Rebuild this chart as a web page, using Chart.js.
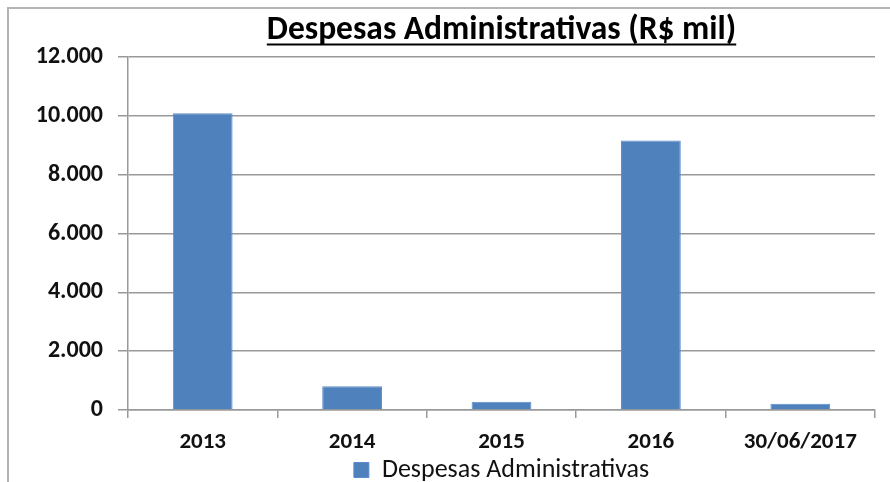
<!DOCTYPE html>
<html>
<head>
<meta charset="utf-8">
<script src="https://cdn.jsdelivr.net/npm/chart.js@4.4.0/dist/chart.umd.min.js"></script>
<style>
  html, body { margin: 0; padding: 0; background: #fff; }
  #wrap { position: relative; width: 890px; height: 482px; overflow: hidden; }
  #frame {
    position: absolute; left: 7px; top: 7px; width: 1000px; height: 600px;
    border-left: 2px solid #b4b4b4; border-top: 2px solid #b4b4b4;
  }
  #chart { position: absolute; left: 0; top: 0; }
</style>
</head>
<body>
<div id="wrap">
  <div id="frame"></div>
  <canvas id="chart" width="890" height="482"></canvas>
</div>
<script>
const FONT = "Carlito, 'Liberation Sans Narrow', 'DejaVu Sans Condensed', sans-serif";

const titleText = 'Despesas Administrativas (R$ mil)';
const seriesLabel = 'Despesas Administrativas';
const categories = ['2013', '2014', '2015', '2016', '30/06/2017'];
const values = [10090, 810, 280, 9170, 215];
const yMin = 0;
const yMax = 12000;
const yStep = 2000;

const TITLE_SIZE = 33.5;

function fmt(v) {
    return String(v).replace(/\B(?=(\d{3})+(?!\d))/g, '.');
}

// underline the title, Excel style
const underlineTitle = {
    id: 'underlineTitle',
    afterDraw(chart) {
        const tb = chart.titleBlock;
        if (!tb) return;
        const ctx = chart.ctx;
        const opts = chart.options.plugins.title;
        ctx.save();
        ctx.font = `bold ${TITLE_SIZE}px ${FONT}`;
        const w = ctx.measureText(titleText).width;
        const cx = (tb.left + tb.right) / 2;
        const mid = tb.top + opts.padding.top + TITLE_SIZE * 1.2 / 2;
        const y = mid + TITLE_SIZE * 0.25 + 5;
        ctx.strokeStyle = '#000';
        ctx.lineWidth = 2;
        ctx.beginPath();
        ctx.moveTo(cx - w / 2, y);
        ctx.lineTo(cx + w / 2, y);
        ctx.stroke();
        ctx.restore();
    }
};

new Chart(document.getElementById('chart'), {
    type: 'bar',
    data: {
        labels: categories,
        datasets: [{
            label: seriesLabel,
            data: values,
            backgroundColor: '#4f81bd',
            borderColor: '#5b8ccb',
            borderWidth: 1,
            categoryPercentage: 1,
            barPercentage: 0.4
        }]
    },
    options: {
        responsive: false,
        animation: false,
        layout: { padding: { left: 0, right: 15, top: 0, bottom: -11 } },
        scales: {
            x: {
                grid: {
                    offset: true,
                    drawOnChartArea: false,
                    color: '#999',
                    lineWidth: 1.5,
                    tickLength: 8
                },
                border: { color: '#999', width: 1.5 },
                ticks: {
                    color: '#111',
                    padding: 10,
                    font: { family: FONT, size: 23, weight: 'bold' }
                },
                afterFit(scale) { scale.height = 41; }
            },
            y: {
                min: yMin,
                max: yMax,
                grid: { color: '#999', lineWidth: 1.5, tickLength: 10 },
                border: { color: '#999', width: 1.5 },
                ticks: {
                    stepSize: yStep,
                    color: '#111',
                    padding: 15,
                    font: { family: FONT, size: 24, weight: 'bold' },
                    callback: v => fmt(v)
                },
                afterFit(scale) { scale.width = 128; }
            }
        },
        plugins: {
            // fullSize off: title and legend centre over the plot area, like Excel
            title: {
                display: true,
                fullSize: false,
                text: titleText,
                color: '#000',
                font: { family: FONT, size: TITLE_SIZE, weight: 'bold' },
                padding: { top: 11, bottom: 6 }
            },
            legend: {
                display: true,
                fullSize: false,
                position: 'bottom',
                labels: {
                    color: '#111',
                    boxWidth: 15,
                    boxHeight: 15,
                    padding: 6,
                    font: { family: FONT, size: 26 }
                }
            },
            tooltip: { enabled: false }
        }
    },
    plugins: [underlineTitle]
});
</script>
</body>
</html>
